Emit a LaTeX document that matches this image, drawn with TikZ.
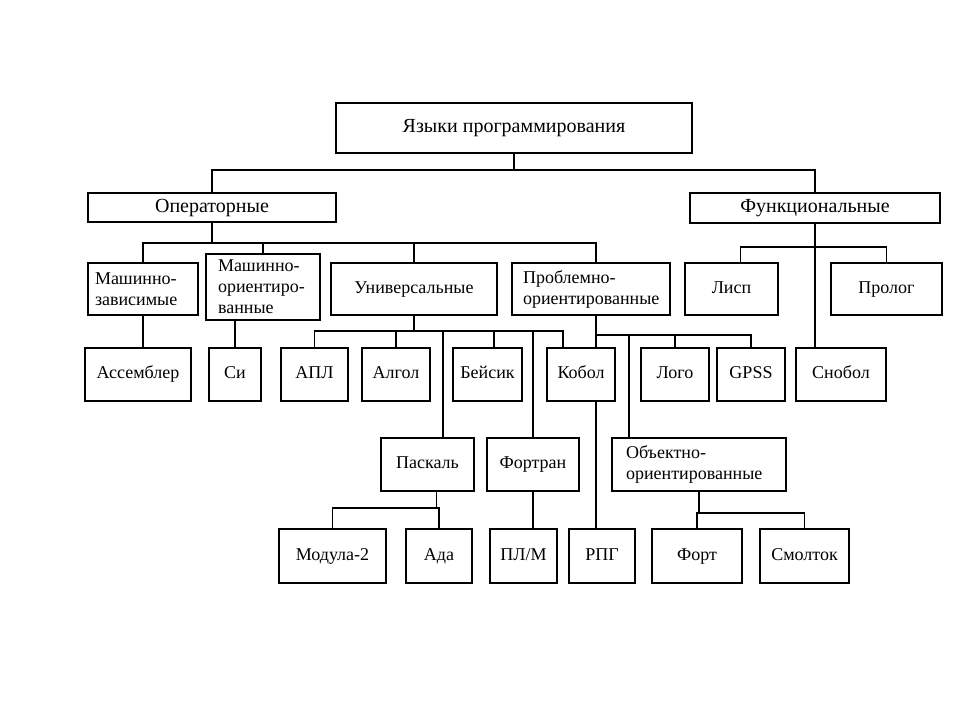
\documentclass[tikz,border=0pt]{standalone}
\usepackage{fontspec}
\setmainfont{Liberation Serif}
\usetikzlibrary{arrows}
\tikzset{
    block/.style={rectangle,draw,line width=1.2pt,inner sep=2pt,text height=12pt,text depth=4pt,font=\fontsize{18}{21}\selectfont},
    bigblock/.style={block,text height=13.5pt,text depth=4.5pt,font=\fontsize{20}{22}\selectfont},
    multi/.style={rectangle,draw,line width=1.2pt,inner xsep=0pt,align=left,font=\fontsize{18}{21}\selectfont},
    edge/.style={line width=1.2pt}
}

\begin{document}
\begin{tikzpicture}[x=1pt,y=-1pt]
\useasboundingbox (0,0) rectangle (960,720);
\node[bigblock, minimum width=356pt, minimum height=50pt] (root) at (514,128) {Языки программирования};
\node[bigblock, minimum width=248pt, minimum height=29pt] (oper) at (212,207.5) {Операторные};
\node[bigblock, minimum width=250pt, minimum height=30pt] (func) at (815,208) {Функциональные};

\node[multi, minimum width=110pt, minimum height=52pt, text width=96pt] (mz) at (143,289) {Машинно-\\зависимые};
\node[multi, minimum width=114pt, minimum height=66pt, text width=90pt, inner ysep=3pt] (mo) at (263,287) {Машинно-\\ориентиро-\\ванные};
\node[block, minimum width=166pt, minimum height=52pt] (univ) at (414,289) {Универсальные};
\node[multi, minimum width=158pt, minimum height=52pt, text width=136pt] (probl) at (591,289) {Проблемно-\\ориентированные};
\node[block, minimum width=93pt, minimum height=52pt] (lisp) at (731.5,289) {Лисп};
\node[block, minimum width=111pt, minimum height=52pt] (prolog) at (886.5,289) {Пролог};

\node[block, minimum width=106pt, minimum height=53pt] (asm) at (138,374.5) {Ассемблер};
\node[block, minimum width=52pt, minimum height=53pt] (si) at (235,374.5) {Си};
\node[block, minimum width=67pt, minimum height=53pt] (apl) at (314.5,374.5) {АПЛ};
\node[block, minimum width=68pt, minimum height=53pt] (algol) at (396,374.5) {Алгол};
\node[block, minimum width=69pt, minimum height=53pt] (basic) at (487.5,374.5) {Бейсик};
\node[block, minimum width=68pt, minimum height=53pt] (kobol) at (581,374.5) {Кобол};
\node[block, minimum width=68pt, minimum height=53pt] (logo) at (675,374.5) {Лого};
\node[block, minimum width=68pt, minimum height=53pt] (gpss) at (751,374.5) {GPSS};
\node[block, minimum width=90pt, minimum height=53pt] (snobol) at (841,374.5) {Снобол};

\node[block, minimum width=93pt, minimum height=53pt] (pascal) at (427.5,464.5) {Паскаль};
\node[block, minimum width=92pt, minimum height=53pt] (fortran) at (533,464.5) {Фортран};
\node[multi, minimum width=174pt, minimum height=53pt, text width=146pt] (oop) at (699,464.5) {Объектно-\\ориентированные};

\node[block, minimum width=107pt, minimum height=54pt] (modula) at (332.5,556) {Модула-2};
\node[block, minimum width=66pt, minimum height=54pt] (ada) at (439,556) {Ада};
\node[block, minimum width=67pt, minimum height=54pt] (plm) at (523.5,556) {ПЛ/М};
\node[block, minimum width=66pt, minimum height=54pt] (rpg) at (602,556) {РПГ};
\node[block, minimum width=90pt, minimum height=54pt] (fort) at (697,556) {Форт};
\node[block, minimum width=89pt, minimum height=54pt] (smalltalk) at (804.5,556) {Смолток};

% top levels
\draw[edge] (root) -- (514,170) -| (oper);
\draw[edge] (root) -- (514,170) -| (func);
\draw[edge] (oper) -- (212,243) -| (mz);
\draw[edge] (oper) -- (212,243) -| (mo);
\draw[edge] (oper) -- (212,243) -| (univ);
\draw[edge] (oper) -- (212,243) -| ([xshift=5pt]probl.north);
\draw[edge] (func) -- (815,247) -| ([xshift=9pt]lisp.north);
\draw[edge] (func) -- (815,247) -| (prolog);
\draw[edge] (func) -- (func |- snobol.north);

% machine languages
\draw[edge] (mz) -- (mz |- asm.north);
\draw[edge] (si) -- (si |- mo.south);

% universal
\draw[edge] (univ) -- (414,331) -| (apl);
\draw[edge] (univ) -- (414,331) -| (algol);
\draw[edge] (univ) -- (414,331) -| ([xshift=15.5pt]pascal.north);
\draw[edge] (univ) -- (414,331) -| ([xshift=6.5pt]basic.north);
\draw[edge] (univ) -- (414,331) -| (fortran);
\draw[edge] (univ) -- (414,331) -| ([xshift=-18pt]kobol.north);

% problem-oriented
\draw[edge] ([xshift=5pt]probl.south) -- (596,335) -| ([xshift=15pt]kobol.north);
\draw[edge] ([xshift=5pt]probl.south) -- (596,335) -| ([xshift=-70pt]oop.north);
\draw[edge] ([xshift=5pt]probl.south) -- (596,335) -| (logo);
\draw[edge] ([xshift=5pt]probl.south) -- (596,335) -| (gpss);
\draw[edge] ([xshift=15pt]kobol.south) coordinate (k) -- (k |- rpg.north);

% lower levels
\draw[edge] ([xshift=9pt]pascal.south) -- (436.5,508) -| (modula);
\draw[edge] ([xshift=9pt]pascal.south) -- (436.5,508) -| (ada);
\draw[edge] (fortran) -- (fortran |- plm.north);
\draw[edge] (oop) -- (699,513) -| (fort);
\draw[edge] (oop) -- (699,513) -| (smalltalk);

\end{tikzpicture}
\end{document}
